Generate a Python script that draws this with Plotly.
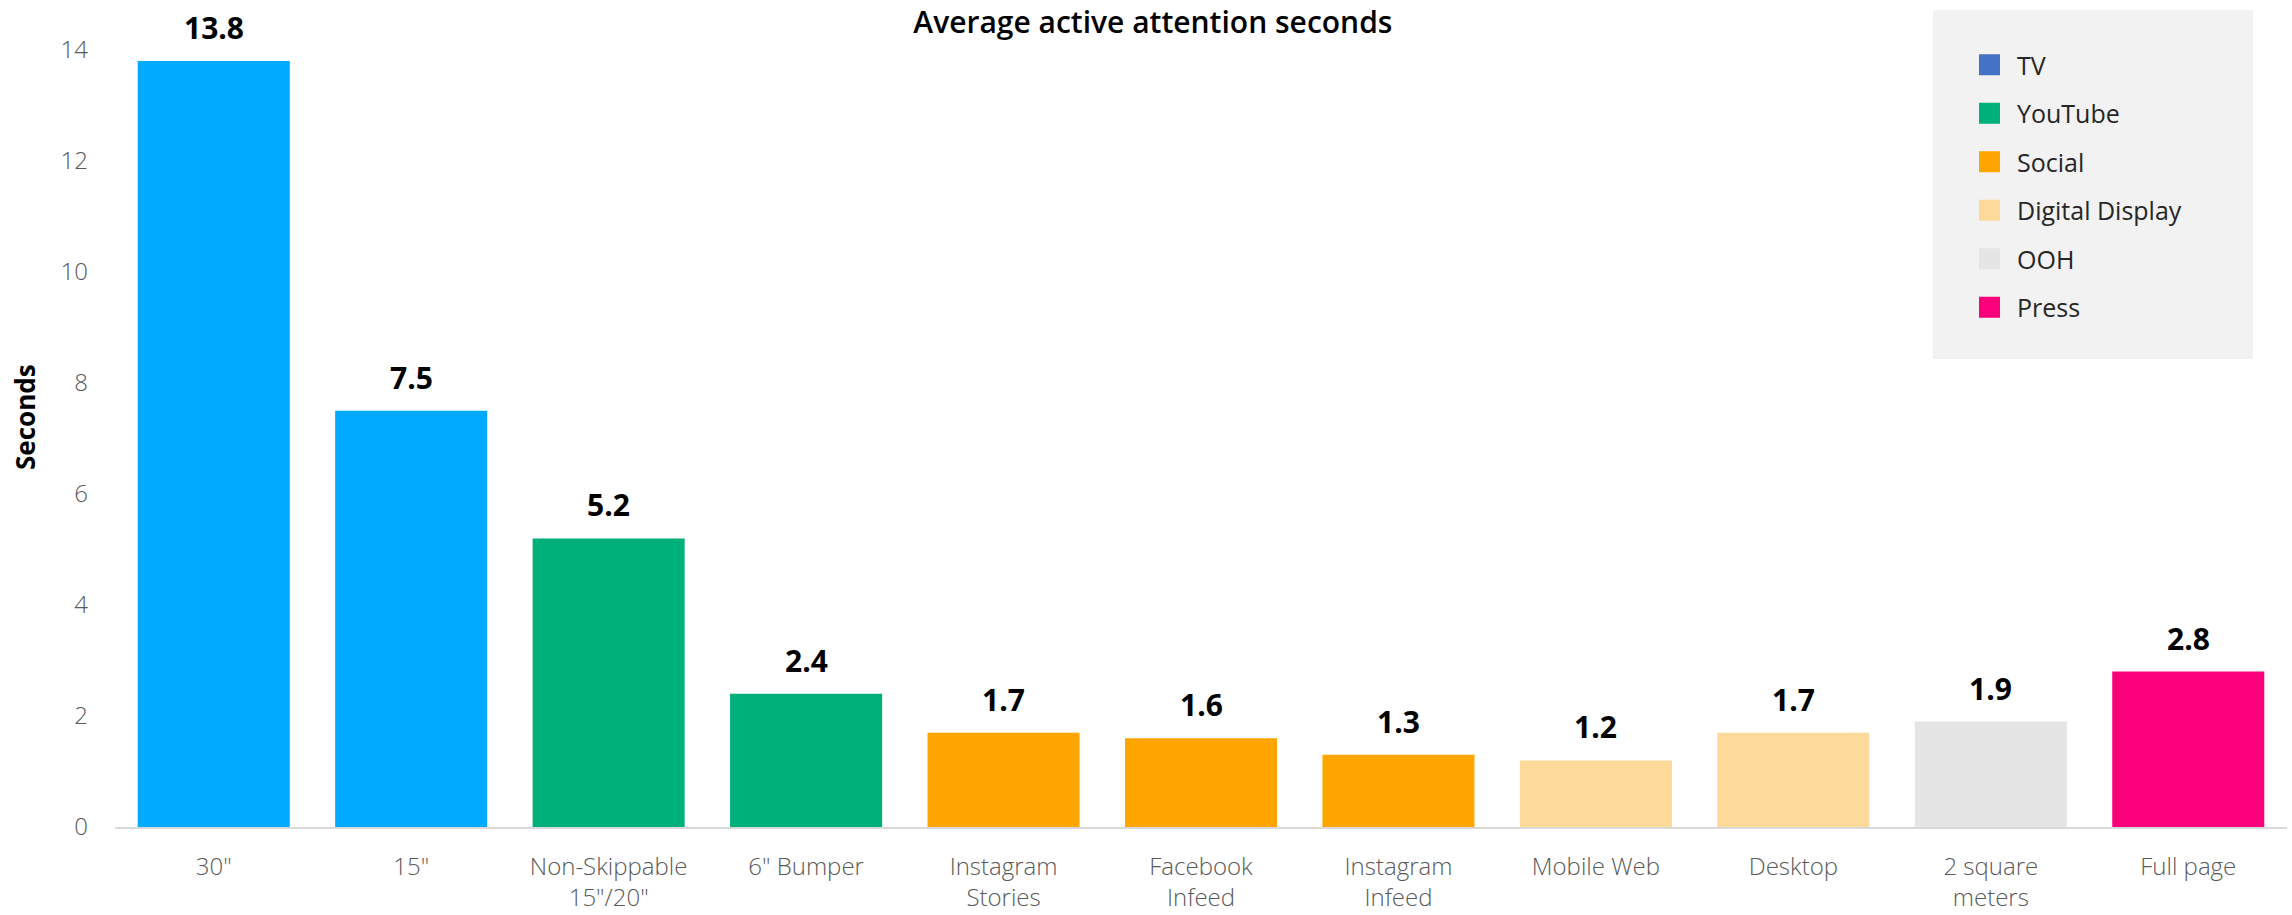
import plotly.graph_objects as go

# ---- data ----
categories = ['30"', '15"', 'Non-Skippable<br>15"/20"', '6" Bumper', 'Instagram<br>Stories',
              'Facebook<br>Infeed', 'Instagram<br>Infeed', 'Mobile Web', 'Desktop',
              '2 square<br>meters', 'Full page']
values = [13.8, 7.5, 5.2, 2.4, 1.7, 1.6, 1.3, 1.2, 1.7, 1.9, 2.8]
bar_groups = ['TV', 'TV', 'YouTube', 'YouTube', 'Social', 'Social', 'Social',
              'Digital Display', 'Digital Display', 'OOH', 'Press']
bar_group_colors = {'TV': '#00AAFF', 'YouTube': '#00B07A', 'Social': '#FFA500',
                    'Digital Display': '#FDDA9A', 'OOH': '#E5E5E5', 'Press': '#FA007A'}
legend_groups = ['TV', 'YouTube', 'Social', 'Digital Display', 'OOH', 'Press']
legend_colors = ['#4472C4', '#00B07A', '#FFA500', '#FDDA9A', '#E5E5E5', '#FA007A']
y_ticks = [0, 2, 4, 6, 8, 10, 12, 14]

FONT = "Open Sans"
W, H = 2292, 915
ML, MR, MT, MB = 115, 5, 50, 88
plot_w = W - ML - MR
plot_h = H - MT - MB

fig = go.Figure()
fig.add_trace(go.Bar(
    x=categories, y=values,
    marker=dict(color=[bar_group_colors[g] for g in bar_groups], line=dict(width=0)),
    width=0.77, showlegend=False, hoverinfo='x+y'))

for v_cat, v in zip(categories, values):
    fig.add_annotation(x=v_cat, y=v, text=f"<b>{v:.1f}</b>", showarrow=False,
                       yanchor='bottom', yshift=11,
                       font=dict(family=FONT, size=30, color='#000000'))

for g, c in zip(legend_groups, legend_colors):
    fig.add_trace(go.Scatter(
        x=[None], y=[None], mode='markers', name=g, legendgroup=g,
        marker=dict(symbol='square', size=16, color=c, line=dict(color=c, width=5))))

def px_to_paper_x(px):
    return (px - ML) / plot_w

def px_to_paper_y(py):
    return (H - MB - py) / plot_h

# legend background box
fig.add_shape(type='rect', xref='paper', yref='paper', layer='below',
              x0=px_to_paper_x(1933), x1=px_to_paper_x(2253),
              y0=px_to_paper_y(359), y1=px_to_paper_y(10),
              fillcolor='#F2F2F2', line=dict(width=0))

# y axis title
fig.add_annotation(xref='paper', yref='paper', x=px_to_paper_x(25), y=px_to_paper_y(417),
                   text='<b>Seconds</b>', textangle=-90, showarrow=False,
                   xanchor='center', yanchor='middle',
                   font=dict(family=FONT, size=26, color='#000000'))

fig.update_layout(
    width=W, height=H,
    margin=dict(l=ML, r=MR, t=MT, b=MB, autoexpand=False),
    paper_bgcolor='white', plot_bgcolor='white',
    font=dict(family=FONT),
    title=dict(text='Average active attention seconds', x=0.503, xref='container',
               xanchor='center', y=1 - 22 / H, yanchor='middle', yref='container',
               font=dict(family=FONT, size=30, color='#000000', weight=600)),
    bargap=0.23,
    showlegend=True,
    legend=dict(x=px_to_paper_x(1962), xanchor='left', y=px_to_paper_y(42), yanchor='top',
                bgcolor='rgba(0,0,0,0)', itemsizing='trace', tracegroupgap=13,
                itemwidth=45,
                font=dict(family=FONT, size=25, color='#262626'), traceorder='grouped'),
    xaxis=dict(showgrid=False, zeroline=False, showline=True, linecolor='#D9D9D9', linewidth=2,
               ticks='', ticklabelstandoff=17, automargin=False,
               tickfont=dict(family=FONT, size=24, color='#595959', weight=300)),
    yaxis=dict(range=[0, 14], tickvals=y_ticks, showgrid=False, zeroline=False, showline=False,
               ticks='', ticklabelstandoff=26, automargin=False,
               tickfont=dict(family=FONT, size=24, color='#595959', weight=300)),
)

fig.write_html("out.html")
